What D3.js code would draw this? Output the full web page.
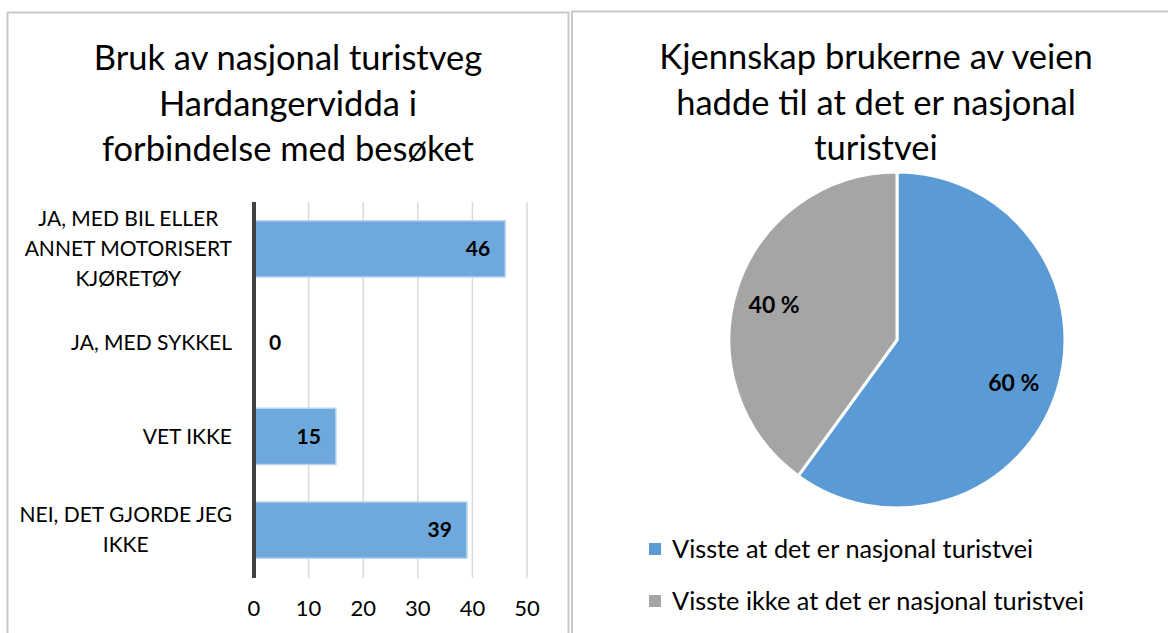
<!DOCTYPE html>
<html>
<head>
  <meta charset="utf-8">
  <script src="https://d3js.org/d3.v7.min.js"></script>
  <style>
    body { margin: 0; background: #fff; }
    svg { display: block; }
    text { font-family: Lato, "Open Sans", sans-serif; fill: #000; }
  </style>
</head>
<body>
<script type="text/javascript">
  "use strict";

  // bar chart: bruk av turistvegen
  var barCategories = [
    ["JA, MED BIL ELLER", "ANNET MOTORISERT", "KJØRETØY"],
    ["JA, MED SYKKEL"],
    ["VET IKKE"],
    ["NEI, DET GJORDE JEG", "IKKE"]
  ];
  var barValues = [46, 0, 15, 39];
  var barTicks = [0, 10, 20, 30, 40, 50];
  var barTitle = ["Bruk av nasjonal turistveg", "Hardangervidda i", "forbindelse med besøket"];

  // pie chart: kjennskap
  var pieLabels = ["Visste at det er nasjonal turistvei", "Visste ikke at det er nasjonal turistvei"];
  var pieValues = [60, 40];
  var pieColors = ["#5b9bd5", "#a5a5a5"];
  var pieTitle = ["Kjennskap brukerne av veien", "hadde til at det er nasjonal", "turistvei"];

  var width = 1168, height = 633;

  var svg = d3.select("body")
      .append("svg")
      .attr("width", width)
      .attr("height", height);

  // panel frames
  svg.append("rect")
      .attr("x", 7.5).attr("y", 12.5)
      .attr("width", 561).attr("height", 700)
      .style("fill", "none")
      .style("stroke", "#c9c9c9")
      .style("stroke-width", 2);

  svg.append("rect")
      .attr("x", 572).attr("y", 11.5)
      .attr("width", 700).attr("height", 700)
      .style("fill", "none")
      .style("stroke", "#c9c9c9")
      .style("stroke-width", 2);

  // ---------- bar chart ----------
  var titleSize = 34.5;

  svg.selectAll("text.barTitle")
      .data(barTitle)
      .enter()
      .append("text")
      .attr("class", "barTitle")
      .attr("x", 288)
      .attr("y", function (d, i) { return 58 + i * 45.5; })
      .attr("dy", "0.35em")
      .style("text-anchor", "middle")
      .style("font-size", titleSize + "px")
      .text(function (d) { return d; });

  var x = d3.scaleLinear()
      .domain([0, 50])
      .range([254, 527]);

  var y = d3.scaleBand()
      .domain(d3.range(barValues.length))
      .range([202, 577])
      .paddingInner(0.4)
      .paddingOuter(0.2);

  var bars = svg.append("g").attr("class", "bars");

  // gridlines
  bars.selectAll("line.grid")
      .data(barTicks.slice(1))
      .enter()
      .append("line")
      .attr("class", "grid")
      .attr("x1", function (d) { return x(d); })
      .attr("x2", function (d) { return x(d); })
      .attr("y1", 202)
      .attr("y2", 578)
      .style("stroke", "#d9d9d9")
      .style("stroke-width", 1.5);

  bars.selectAll("rect.bar")
      .data(barValues)
      .enter()
      .append("rect")
      .attr("class", "bar")
      .attr("x", x(0))
      .attr("y", function (d, i) { return y(i); })
      .attr("width", function (d) { return x(d) - x(0); })
      .attr("height", y.bandwidth())
      .style("fill", "#6fa8dc")
      .style("stroke", "#b7d3ee")
      .style("stroke-width", function (d) { return d > 0 ? 1.5 : 0; });

  // axis line at zero
  bars.append("line")
      .attr("x1", x(0)).attr("x2", x(0))
      .attr("y1", 202).attr("y2", 578)
      .style("stroke", "#404040")
      .style("stroke-width", 4);

  // tick labels
  bars.selectAll("text.tick")
      .data(barTicks)
      .enter()
      .append("text")
      .attr("class", "tick")
      .attr("x", function (d) { return x(d); })
      .attr("y", 608)
      .attr("dy", "0.35em")
      .style("text-anchor", "middle")
      .style("font-size", "22px")
      .text(function (d) { return d; });

  // value labels
  bars.selectAll("text.value")
      .data(barValues)
      .enter()
      .append("text")
      .attr("class", "value")
      .attr("x", function (d) { return d > 3 ? x(d) - 15 : x(0) + 15; })
      .attr("y", function (d, i) { return y(i) + y.bandwidth() / 2; })
      .attr("dy", "0.35em")
      .style("text-anchor", function (d) { return d > 3 ? "end" : "start"; })
      .style("font-size", "21px")
      .style("font-weight", "bold")
      .text(function (d) { return d; });

  // category labels: lines centred among themselves, block right edge at 232
  var labelRight = 232, labelLine = 30;
  barCategories.forEach(function (lines, i) {
      var g = bars.append("g");
      var cy = y(i) + y.bandwidth() / 2;
      var t = g.selectAll("text")
          .data(lines)
          .enter()
          .append("text")
          .attr("y", function (d, j) { return cy + (j - (lines.length - 1) / 2) * labelLine; })
          .attr("dy", "0.35em")
          .style("text-anchor", "middle")
          .style("font-size", "21px")
          .text(function (d) { return d; });
      var maxW = d3.max(t.nodes(), function (n) { return n.getComputedTextLength(); });
      t.attr("x", labelRight - maxW / 2);
  });

  // ---------- pie chart ----------
  svg.selectAll("text.pieTitle")
      .data(pieTitle)
      .enter()
      .append("text")
      .attr("class", "pieTitle")
      .attr("x", 876)
      .attr("y", function (d, i) { return 57 + i * 45.5; })
      .attr("dy", "0.35em")
      .style("text-anchor", "middle")
      .style("font-size", titleSize + "px")
      .text(function (d) { return d; });

  var radius = 168;
  var pie = d3.pie().sort(null)(pieValues);
  var arc = d3.arc().innerRadius(0).outerRadius(radius);

  var pg = svg.append("g")
      .attr("transform", "translate(897,340)");

  pg.selectAll("path")
      .data(pie)
      .enter()
      .append("path")
      .attr("d", arc)
      .style("fill", function (d, i) { return pieColors[i]; })
      .style("stroke", "#fff")
      .style("stroke-width", 3)
      .style("stroke-linejoin", "miter");

  var labelArc = d3.arc().innerRadius(radius * 0.75).outerRadius(radius * 0.75);
  pg.selectAll("text")
      .data(pie)
      .enter()
      .append("text")
      .attr("transform", function (d) {
          var c = labelArc.centroid(d);
          return "translate(" + (c[0] - 3) + "," + (c[1] + 4) + ")";
      })
      .attr("dy", "0.35em")
      .style("text-anchor", "middle")
      .style("font-size", "23px")
      .style("font-weight", "bold")
      .text(function (d) { return d.value + " %"; });

  // legend
  var legend = svg.selectAll("g.legend")
      .data(pieLabels)
      .enter()
      .append("g")
      .attr("class", "legend")
      .attr("transform", function (d, i) { return "translate(649," + (549 + i * 52) + ")"; });

  legend.append("rect")
      .attr("x", 0).attr("y", -6)
      .attr("width", 12).attr("height", 12)
      .style("fill", function (d, i) { return pieColors[i]; });

  legend.append("text")
      .attr("x", 23)
      .attr("y", 0)
      .attr("dy", "0.35em")
      .style("font-size", "25.3px")
      .text(function (d) { return d; });
</script>
</body>
</html>
